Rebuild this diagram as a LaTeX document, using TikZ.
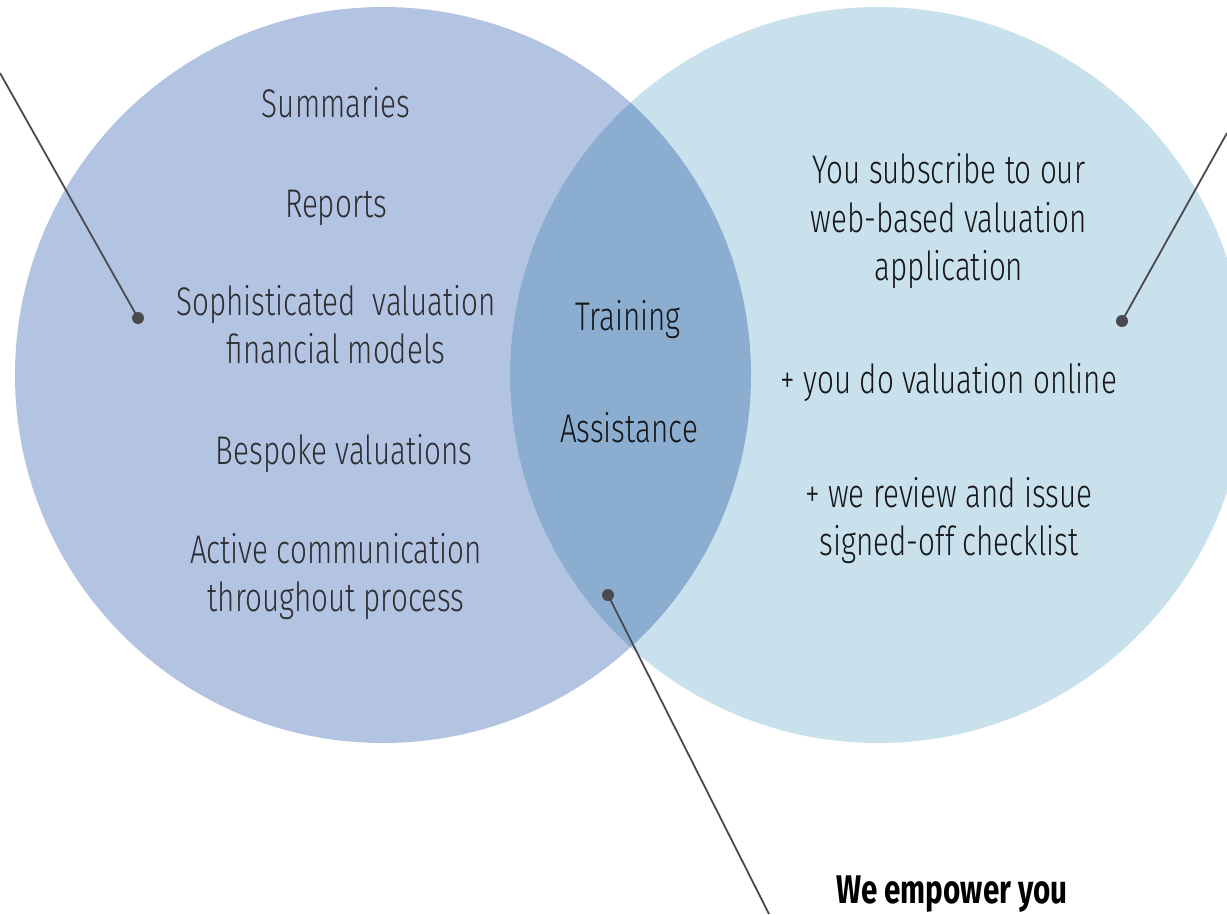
\documentclass[tikz,border=0pt]{standalone}
\usepackage{fontspec}
\setmainfont{Fira Sans Light}[FakeStretch=0.74]
\newfontfamily\boldfont{Fira Sans Bold}[FakeStretch=0.74]
\definecolor{leftc}{RGB}{179,196,226}
\definecolor{rightc}{RGB}{200,225,236}
\definecolor{overlapc}{RGB}{139,173,208}
\definecolor{linec}{RGB}{74,74,78}
\definecolor{ltext}{RGB}{45,45,50}
\definecolor{rtext}{RGB}{22,22,24}
\begin{document}
\begin{tikzpicture}[x=1pt,y=-1pt,
  lbl/.style={anchor=base,inner sep=0pt,font=\fontsize{40}{48}\selectfont},
  ltxt/.style={lbl,text=ltext},
  rtxt/.style={lbl,text=rtext},
  dot/.style={circle,fill=linec,inner sep=0pt,minimum size=12pt},
  conn/.style={draw=linec,line width=1.8pt}]
\useasboundingbox (0,0) rectangle (1227,914);
% circles
\fill[leftc] (383,375) circle[radius=368pt];
\fill[rightc] (878,375) circle[radius=368pt];
\begin{scope}
  \clip (383,375) circle[radius=368pt];
  \fill[overlapc] (878,375) circle[radius=368pt];
\end{scope}
% left texts
\node[ltxt] (sum) at (336,117) {Summaries};
\node[ltxt] (rep) at (336,217) {Reports};
\node[ltxt] (soph1) at (336,315) {Sophisticated~ valuation};
\node[ltxt] (soph2) at (336,363) {financial models};
\node[ltxt] (besp) at (344,464) {Bespoke valuations};
\node[ltxt] (act1) at (336,563) {Active communication};
\node[ltxt] (act2) at (336,611) {throughout process};
% middle texts
\node[rtxt] (train) at (628,330) {Training};
\node[rtxt] (assist) at (629,442) {Assistance};
% right texts
\node[rtxt] (sub1) at (949,183) {You subscribe to our};
\node[rtxt] (sub2) at (949,232) {web-based valuation};
\node[rtxt] (sub3) at (949,280) {application};
\node[rtxt] (online) at (949,393) {+ you do valuation online};
\node[rtxt] (rev1) at (949,507) {+ we review and issue};
\node[rtxt] (rev2) at (949,555) {signed-off checklist};
% bottom label
\node[anchor=base,inner sep=0pt,text=black,font=\boldfont\fontsize{40}{48}\selectfont] (emp) at (952,903) {We empower you};
% connectors
\coordinate (e1) at (0,73);
\coordinate (e2) at (1227,133);
\coordinate (e3) at (769,914);
\node[dot] (d1) at (138,318) {};
\node[dot] (d2) at (1122,321) {};
\node[dot] (d3) at (608,595) {};
\draw[conn] (e1) -- (d1.center);
\draw[conn] (e2) -- (d2.center);
\draw[conn] (e3) -- (d3.center);
\end{tikzpicture}
\end{document}
